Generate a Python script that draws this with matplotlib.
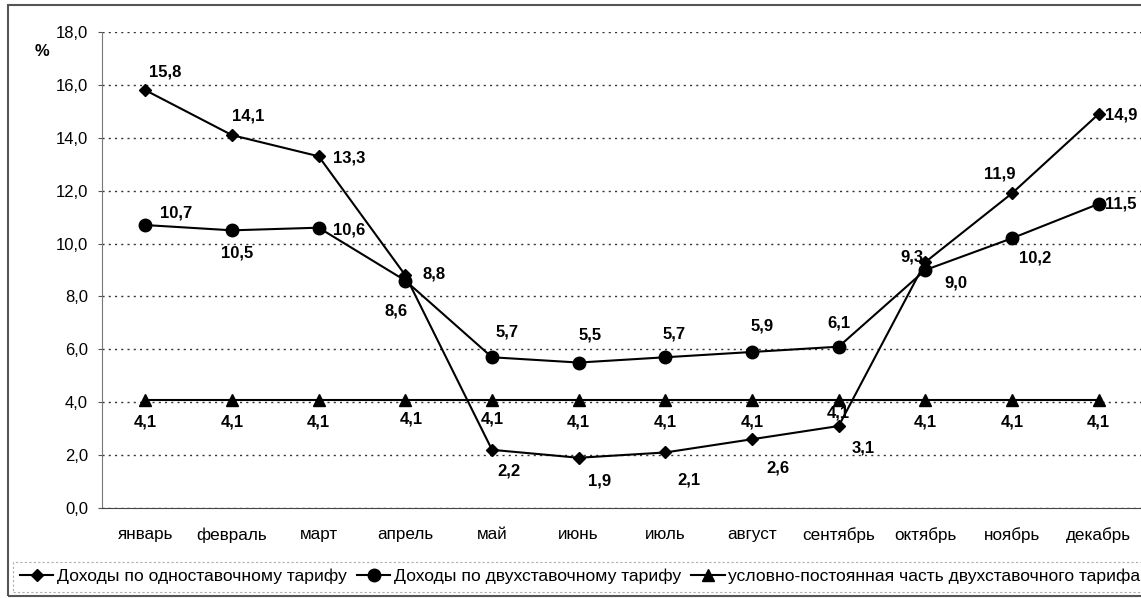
import matplotlib.pyplot as plt
from matplotlib.patches import Rectangle

plt.rcParams['font.family'] = ['Liberation Sans', 'DejaVu Sans']

months = ['январь', 'февраль', 'март', 'апрель', 'май', 'июнь',
          'июль', 'август', 'сентябрь', 'октябрь', 'ноябрь', 'декабрь']
single_rate = [15.8, 14.1, 13.3, 8.8, 2.2, 1.9, 2.1, 2.6, 3.1, 9.3, 11.9, 14.9]
two_rate = [10.7, 10.5, 10.6, 8.6, 5.7, 5.5, 5.7, 5.9, 6.1, 9.0, 10.2, 11.5]
fixed_part = [4.1] * 12

series_names = ['Доходы по одноставочному тарифу',
                'Доходы по двухставочному тарифу',
                'условно-постоянная часть двухставочного тарифа']

# label centre offsets from the marker, in points
single_off = [(14, 13), (12, 14), (22, -1), (21, 1), (12, -15), (15, -17),
              (17, -20), (19, -21), (18, -16), (-10, 4), (-9, 14), (16, -1)]
two_off = [(22, 9), (4, -16), (22, -2), (-7, -22), (11, 18), (8, 20),
           (6, 17), (7, 19), (0, 17), (22, -9), (17, -14), (16, 0)]
fixed_off = [(0, -16), (0, -16), (0, -16), (4, -14), (0, -14), (0, -16),
             (0, -16), (0, -16), (0, -10), (0, -16), (0, -16), (0, -16)]

fig = plt.figure(figsize=(11.41, 5.98), dpi=100)
ax = fig.add_axes([102 / 1141, 90 / 598, 1040 / 1141, 476 / 598])

x = range(len(months))
ax.plot(x, single_rate, color='black', lw=1.5, marker='D', ms=6, label=series_names[0])
ax.plot(x, two_rate, color='black', lw=1.5, marker='o', ms=9, label=series_names[1])
ax.plot(x, fixed_part, color='black', lw=1.5, marker='^', ms=9, label=series_names[2])


def fmt(v):
    return f'{v:.1f}'.replace('.', ',')


for vals, offs in [(single_rate, single_off), (two_rate, two_off), (fixed_part, fixed_off)]:
    for i, (v, (dx, dy)) in enumerate(zip(vals, offs)):
        ax.annotate(fmt(v), (i, v), xytext=(dx, dy), textcoords='offset points',
                    ha='center', va='center', fontsize=12, fontweight='bold')

ax.set_xlim(-0.5, 11.5)
ax.set_ylim(0, 18)
ax.set_yticks(range(0, 19, 2))
ax.set_yticklabels([fmt(t) for t in range(0, 19, 2)], fontsize=12)
ax.set_xticks(list(x))
ax.set_xticklabels(months, fontsize=12.3)
ax.tick_params(axis='x', length=0, pad=14)
ax.tick_params(axis='y', length=3, color='#555555', pad=7)
ax.grid(axis='y', linestyle=(0, (1.5, 3)), color='#333333', lw=1)
for s in ['top', 'right']:
    ax.spines[s].set_visible(False)
ax.spines['left'].set_color('#777777')
ax.spines['left'].set_linestyle((0, (2, 1)))
ax.spines['bottom'].set_color('#444444')
ax.text(-0.058, 0.96, '%', transform=ax.transAxes, fontsize=12, fontweight='bold',
        ha='center', va='center')

leg = fig.legend(loc='upper left', bbox_to_anchor=(13 / 1141, 1 - 562 / 598), ncol=3,
                 fontsize=12.6, handlelength=1.9, handletextpad=0.2, columnspacing=0.6,
                 borderpad=0.4, borderaxespad=0, frameon=True, fancybox=False)
leg.get_frame().set_edgecolor('#999999')
leg.get_frame().set_linestyle((0, (2, 2)))
leg.get_frame().set_linewidth(0.8)

fig.patches.append(Rectangle((8 / 1141, 2 / 598), 1.2, 591 / 598, transform=fig.transFigure,
                             fill=False, edgecolor='#555555', lw=1.5))

fig.savefig('out.png', dpi=100)
